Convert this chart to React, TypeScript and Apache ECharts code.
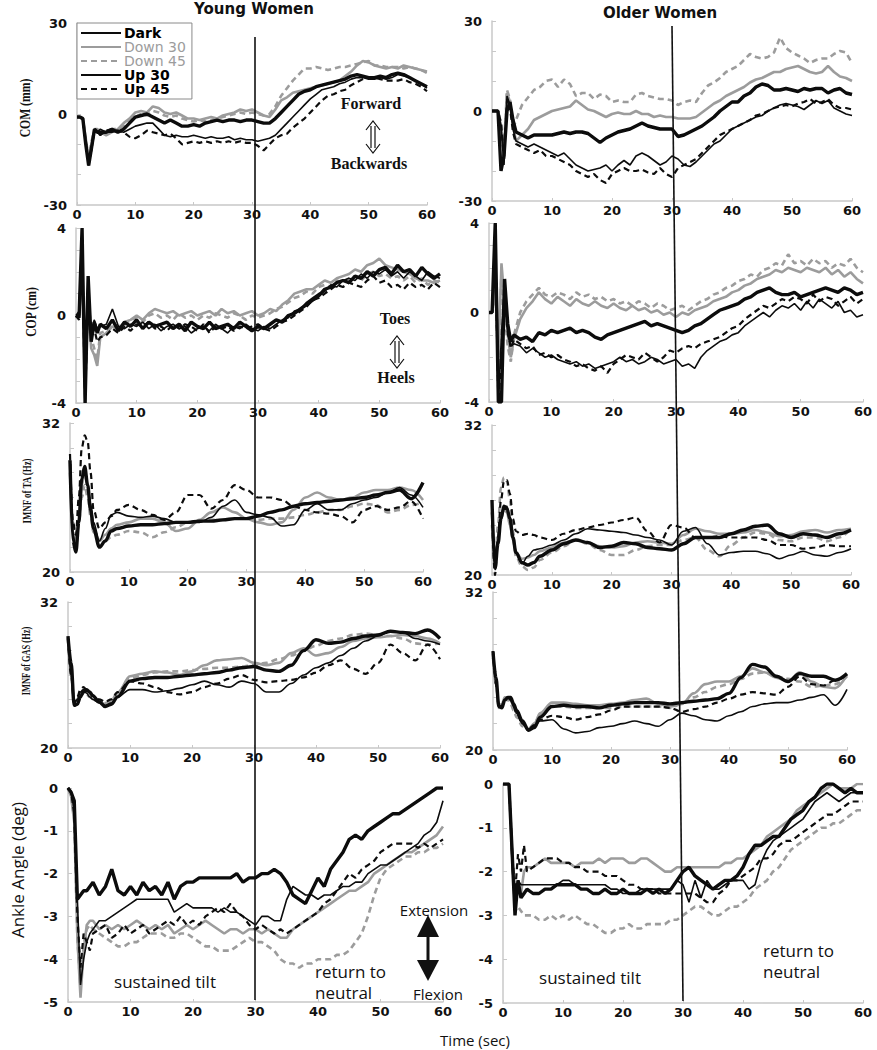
import React, { useEffect, useRef } from "react";
import * as echarts from "echarts";

// ---------- time bases ----------
const tFine = [0, 0.5, 1, 1.5, 2, 2.5, 3, 3.5, 4, 5, 6, 7, 8, 9, 10, 11, 12, 13, 14, 15, 16, 17, 18, 19, 20, 21, 22, 23, 24, 25, 26, 27, 28, 29, 30, 31, 32, 33, 34, 35, 36, 37, 38, 39, 40, 41, 42, 43, 44, 45, 46, 47, 48, 49, 50, 51, 52, 53, 54, 55, 56, 57, 58, 59, 60];
const tCoarse = [0, 0.5, 1, 1.5, 2, 2.5, 3, 3.5, 4, 5, 6, 7, 8, 10, 12, 14, 16, 18, 20, 22, 24, 26, 28, 30, 32, 34, 36, 38, 40, 42, 44, 46, 48, 50, 52, 54, 56, 58, 60];

const NAMES = ["Dark", "Down 30", "Down 45", "Up 30", "Up 45"];
const xTicks = [0, 10, 20, 30, 40, 50, 60];

// ---------- COM Young (mm) ----------
const comYoungDark = [-1, -1, -1.5, -10, -17, -11, -5, -6, -6,
  -6, -5, -6, -5, -3, -1, -0.5, 0, -1, -2,
  -3, -2, -3, -4, -4, -3.5, -4, -3, -2.5, -2,
  -2.5, -2, -2, -2.5, -2, -2, -2.5, -3, -3, -1.5,
  0.5, 2.5, 4.5, 6.5, 7.5, 8, 9, 9.5, 10, 10.5,
  11, 11.5, 12.5, 13, 12.5, 12, 12, 12.5, 12, 13,
  13.5, 13, 12, 11, 10, 9];
const comYoungDown30 = [-1, -1, -1.5, -8, -15, -10, -5, -5, -6,
  -7, -6, -5, -3, -1.5, 0.5, 1, 0.5, 2.5, 2,
  0.5, 0, 0.5, -0.5, -1.5, -1.5, -2, -1.5, -1, -1.5,
  -0.5, 0, 0.5, 1.5, 1, 1.5, 0.5, -0.5, -1, 1.5,
  4.5, 5.5, 7, 7.5, 8, 8.5, 9, 9.5, 10, 10.5,
  11, 12.5, 14, 16, 17.5, 17, 16, 15.5, 15, 15.5,
  15, 16, 15.5, 15, 14.5, 14];
const comYoungDown45 = [-1, -1, -1.5, -9, -14, -9, -5, -6, -6,
  -6, -5, -5, -4, -2, -1, 0, -0.5, 1, 0.5,
  -0.5, -1, -0.5, -1.5, -2, -2.5, -2, -2.5, -2, -1.5,
  -1, -0.5, 0, 0.5, 0, 0.5, 0, -0.5, 0, 2.5,
  6, 8.5, 11, 13, 15, 15, 15.5, 15, 14.5, 15,
  15.5, 15.5, 16, 16.5, 17, 17.5, 16, 16, 15.5, 15.5,
  15.5, 15, 15.5, 15, 14.5, 13.5];
const comYoungUp30 = [-1, -1, -2, -10, -17, -12, -6, -6, -5,
  -6, -6, -5.5, -6, -5, -4, -3.5, -3, -3, -5,
  -7, -7.5, -7, -7.5, -7.5, -7, -7.5, -8, -7.5, -8,
  -8, -7.5, -8.5, -8, -8.5, -8.5, -9, -8.5, -8, -7,
  -5, -3, -1, 1, 3, 5, 6.5, 8, 8.5, 9,
  10, 10.5, 11.5, 12, 12, 11.5, 11.5, 12, 11.5, 12,
  13, 12.5, 12, 11, 10, 8.5];
const comYoungUp45 = [-1, -1, -2, -9, -16, -11, -5, -6, -7,
  -5.5, -5, -5.5, -6, -7.5, -8, -7, -5.5, -6, -6.5,
  -7, -6.5, -8, -10, -9.5, -9, -9.5, -9, -9.5, -9,
  -9.5, -9, -9.5, -9, -9.5, -9.5, -10.5, -12, -10, -8,
  -7, -6.5, -4.5, -3, -1.5, 0.5, 2.5, 4.5, 6, 6.5,
  7.5, 8, 9.5, 10.5, 11.5, 12, 12, 11.5, 11, 11,
  11, 11.5, 10.5, 10, 9, 7.5];

// ---------- COM Older (mm) ----------
const comOlderDark = [0, 0, 0, -20, -15, 0, 3, -3, -7,
  -8, -9, -8, -8, -8, -8, -7.5, -7, -7.5, -7,
  -7, -7.5, -9, -10.5, -9, -8, -7, -6.5, -6, -5,
  -4, -5, -5.5, -6, -6, -6, -8.5, -8, -7, -6,
  -5, -3.5, -2, 0, 1.5, 3, 3, 5, 6, 8,
  9, 8.5, 7, 7, 7.5, 7, 6.5, 7.5, 7, 7.5,
  7.5, 6, 7, 7.5, 6, 5.5];
const comOlderDown30 = [0, 0, 0, -5, -15, 6, 3, -5, -10,
  -8, -6, -3, -2, -1, 0, 0.5, 1, 1.5, 3.5,
  2, 0.5, 0, -1, -2, -1, -0.5, -1, -1, 0,
  -1, -1, -2, -1.5, -2, -2, -2.5, -2.5, -2.5, -2,
  -0.5, 1, 2.5, 3.5, 5, 6, 7, 8, 9.5, 10.5,
  11, 12, 13, 13, 14, 14.5, 15, 14, 13, 12.5,
  13, 15, 13, 11.5, 11, 10];
const comOlderDown45 = [0, 0, 0, -4, -12, 7, 4, -6, -3,
  2, 4.5, 7, 8, 10, 10.5, 8, 10.5, 9, 5,
  6, 6, 4, 5.5, 5, 3, 3.5, 3, 3, 5.5,
  6, 5, 4.5, 4, 4, 3.5, 2, 3, 3.5, 3,
  6, 8.5, 9.5, 11, 13, 14, 15, 17, 19, 18,
  17.5, 18, 19.5, 24.5, 21, 19.5, 18.5, 17.5, 16, 17,
  17.5, 17.5, 19, 20, 19.5, 16];
const comOlderUp30 = [0, 0, 0, -5, -18, 5, 2, -6, -10,
  -11, -12, -11, -12, -13, -14, -15, -14, -16, -18,
  -19, -20, -19.5, -19, -18, -20, -18, -16.5, -18, -15,
  -14, -15, -16.5, -18, -17, -15, -16, -18, -18.5, -17,
  -15, -13, -11, -10, -8, -6, -5, -4, -3, -2,
  -1.5, 0, 1, 2, 2.5, 2, 1.5, 0.5, 2, 3.5,
  2.5, 3.5, 1, 0, -1, -1.5];
const comOlderUp45 = [0, 0, 0, -4, -16, 4, 1, -7, -11,
  -12, -13, -14, -13, -15, -15, -16, -17, -18, -20,
  -21, -22, -21, -23, -24, -21, -20, -19, -20, -20,
  -19.5, -20.5, -21, -19, -21, -22, -19, -18, -17, -16,
  -14, -12, -10, -8, -7, -6, -5, -4, -3, -1.5,
  -1, 0, 1, 1.5, 2, 1.5, 2.5, 3, 4, 2.5,
  3, 4, 2, 1, 1, 0.5];

// ---------- COP Young (cm) ----------
const copYoungDark = [0, -0.1, 4, -4, 1.8, -1.2, -0.3, -0.8, -0.4,
  -0.6, -0.2, -0.7, -0.3, -0.5, -0.2, -0.6, -0.3, -0.5, -0.4,
  -0.3, -0.6, -0.4, -0.7, -0.3, -0.5, -0.6, -0.3, -0.6, -0.5,
  -0.4, -0.6, -0.3, -0.5, -0.7, -0.5, -0.6, -0.4, -0.2, -0.3,
  0, 0.1, 0.3, 0.5, 0.7, 0.9, 1.2, 1.3, 1.5, 1.6,
  1.5, 1.8, 1.7, 2.0, 1.8, 2.1, 2.2, 1.9, 2.3, 2.0,
  2.1, 1.8, 2.2, 1.9, 1.7, 1.9];
const copYoungDown30 = [0, 0, 2, -3, 0.5, -1.5, -1.8, -2.3, -1.0,
  -0.8, -0.5, -0.6, -0.3, -0.2, 0, -0.2, 0.1, 0.3, 0.2,
  0.1, 0.2, 0, 0.1, 0.2, 0, 0.1, 0.2, 0, 0.3,
  0.1, 0.2, 0, 0.1, 0.2, 0, 0.1, 0.3, 0.2, 0.5,
  0.7, 1.0, 1.1, 1.2, 1.2, 1.4, 1.6, 1.5, 1.7, 1.8,
  1.9, 2.1, 2.0, 2.3, 2.4, 2.6, 2.3, 2.2, 2.1, 2.0,
  1.9, 1.7, 1.6, 1.6, 1.5, 1.6];
const copYoungDown45 = [0, 0, 3, -3.5, 1, -1, -1.5, -2, -0.8,
  -0.7, -0.4, -0.5, -0.4, -0.2, -0.1, -0.3, 0, 0.1, -0.1,
  0, -0.2, 0.1, -0.1, 0, -0.2, 0, -0.1, 0.1, 0,
  -0.1, 0.1, 0, -0.2, 0, -0.1, 0, 0.1, 0.3, 0.4,
  0.6, 0.8, 0.9, 1.1, 1.0, 1.3, 1.4, 1.3, 1.6, 1.5,
  1.7, 1.8, 1.6, 1.9, 2.0, 1.8, 1.9, 1.7, 1.8, 1.6,
  1.8, 1.5, 1.7, 1.4, 1.6, 1.5];
const copYoungUp30 = [0, 0.2, 4, -4, 1, -0.8, -0.2, -0.6, -0.5,
  -0.4, 0.3, -0.5, -0.6, -0.4, -0.5, -0.3, -0.6, -0.4, -0.7,
  -0.5, -0.4, -0.6, -0.5, -0.8, -0.6, -0.5, -0.7, -0.4, -0.6,
  -0.8, -0.5, -0.6, -0.4, -0.6, -0.7, -0.5, -0.6, -0.4, -0.2,
  -0.1, 0.2, 0.3, 0.6, 0.8, 1.0, 1.1, 1.4, 1.3, 1.6,
  1.7, 1.6, 1.9, 1.7, 2.0, 1.9, 2.1, 1.8, 2.0, 1.7,
  2.0, 1.8, 1.6, 2.0, 1.8, 1.7];
const copYoungUp45 = [0, -0.2, 3.5, -4, 1.5, -1, -0.6, -1.2, -1.0,
  -0.9, -0.6, -0.8, -0.5, -0.7, -0.4, -0.5, -0.3, -0.6, -0.5,
  -0.7, -0.4, -0.6, -0.4, -0.5, -0.7, -0.4, -0.8, -0.5, -0.6,
  -0.5, -0.7, -0.5, -0.6, -0.5, -0.4, -0.6, -0.7, -0.5, -0.3,
  -0.2, 0.0, 0.2, 0.4, 0.7, 0.8, 1.0, 1.2, 1.4, 1.3,
  1.5, 1.4, 1.3, 1.6, 1.8, 1.5, 1.6, 1.3, 1.4, 1.2,
  1.5, 1.3, 1.4, 1.2, 1.5, 1.3];

// ---------- COP Older (cm) ----------
const copOlderDark = [0, 0, 4, -4, -4, 1.5, -0.5, -1.3, -1.0,
  -1.2, -1.1, -1.3, -0.9, -1.0, -0.8, -0.9, -0.8, -0.7, -0.9,
  -0.8, -0.9, -1.1, -1.2, -1.0, -0.9, -0.8, -0.7, -0.6, -0.5,
  -0.4, -0.6, -0.5, -0.6, -0.7, -0.8, -0.9, -0.8, -0.6, -0.5,
  -0.3, -0.1, 0.1, 0.2, 0.3, 0.4, 0.6, 0.7, 0.9, 1.0,
  1.1, 0.9, 0.8, 0.8, 0.9, 0.7, 0.8, 0.9, 1.0, 1.1,
  1.0, 0.9, 1.1, 1.0, 0.8, 0.9];
const copOlderDown30 = [0, 0, 1, -2, 2.2, 0.5, -1.0, -2.0, -1.2,
  -0.3, 0.2, 0.5, 0.9, 0.6, 0.4, 0.7, 0.5, 0.3, 0.6,
  0.4, 0.3, 0.5, 0.3, 0.2, 0.4, 0.2, 0.1, 0.3, 0.1,
  0.2, 0.0, 0.1, -0.1, 0.0, -0.2, 0.0, -0.1, 0.1, 0.2,
  0.3, 0.5, 0.6, 0.7, 0.9, 1.0, 1.2, 1.3, 1.5, 1.6,
  1.7, 1.9, 1.8, 2.0, 1.9, 1.8, 2.0, 1.9, 1.8, 2.0,
  1.7, 1.9, 1.6, 1.8, 1.5, 1.3];
const copOlderDown45 = [0, 0, 1.5, -2.5, 1.8, 0, -1.5, -2.2, -1.0,
  0, 0.5, 0.8, 1.1, 0.8, 0.7, 0.9, 0.8, 0.6, 0.9,
  0.7, 0.8, 0.6, 0.7, 0.5, 0.6, 0.4, 0.5, 0.3, 0.5,
  0.4, 0.2, 0.4, 0.3, 0.1, 0.2, 0.3, 0.1, 0.3, 0.5,
  0.6, 0.8, 0.9, 1.1, 1.2, 1.4, 1.5, 1.7, 1.6, 1.9,
  2.0, 2.2, 2.1, 2.6, 2.2, 2.3, 2.1, 2.4, 2.2, 2.3,
  2.0, 2.2, 2.1, 2.4, 2.0, 1.8];
const copOlderUp30 = [0, 0, 3.5, -4, -1, 1.5, -1.0, -1.5, -1.4,
  -1.5, -1.8, -1.6, -1.8, -2.0, -1.9, -2.1, -2.2, -2.3, -2.2,
  -2.4, -2.3, -2.5, -2.4, -2.3, -2.2, -2.0, -2.2, -2.1, -2.3,
  -2.2, -2.0, -2.1, -2.3, -2.2, -2.1, -2.4, -2.3, -2.5, -2.0,
  -1.7, -1.5, -1.3, -1.2, -1.0, -0.9, -0.6, -0.4, -0.2, 0,
  -0.2, 0.1, 0.3, 0.2, 0.4, 0.1, 0.5, 0.2, 0.6, 0.4,
  0.2, 0.5, 0.0, 0.1, -0.2, -0.1];
const copOlderUp45 = [0, 0, 3, -4, -2, 1, -0.8, -1.6, -1.2,
  -1.4, -1.6, -1.5, -1.9, -1.8, -2.0, -1.9, -2.1, -2.2, -2.4,
  -2.3, -2.5, -2.6, -2.4, -2.7, -2.3, -2.1, -1.9, -2.0, -2.1,
  -1.8, -2.0, -2.2, -2.0, -1.7, -1.8, -1.6, -1.5, -1.6, -1.4,
  -1.3, -1.2, -1.1, -0.9, -0.7, -0.6, -0.3, -0.1, 0.1, 0.3,
  0.2, 0.4, 0.6, 0.5, 0.7, 0.6, 0.4, 0.8, 0.5, 0.7,
  0.6, 0.3, 0.5, 0.7, 0.4, 0.6];

// ---------- IMNF of TA, Young (Hz) ----------
const taYoungDark = [29.0, 22.5, 21.6, 24, 27.5, 28.5, 27, 25, 23.5, 22.0, 22.5, 23.3, 23.5,
  23.7, 23.8, 23.8, 23.9, 24.0, 24.0, 24.1, 24.1, 24.2, 24.3,
  24.3, 24.5, 24.8, 25.0, 25.3, 25.5, 25.6, 25.7, 25.8, 25.9,
  26.0, 26.2, 26.4, 26.6, 25.9, 27.2];
const taYoungDown30 = [29, 23, 22, 24, 27, 28, 27, 25, 23.5, 22.5, 23.0, 23.5, 23.8,
  24.0, 24.3, 24.3, 24.0, 23.3, 23.5, 24.2, 24.8, 25.2, 24.8,
  24.3, 24.0, 23.8, 24.0, 25.0, 26.0, 26.4, 26.0, 25.8, 26.0,
  26.4, 26.6, 26.6, 26.8, 26.6, 25.8];
const taYoungDown45 = [28, 24, 22.5, 24, 26, 27, 26, 24.5, 23.2, 22.6, 22.5, 22.8, 23.0,
  23.3, 23.2, 22.8, 23.2, 23.6, 24.0, 24.1, 24.2, 24.2, 24.3,
  24.3, 24.2, 24.3, 24.3, 24.4, 24.6, 24.8, 25.0, 25.0, 25.3,
  25.5, 25.4, 24.8, 25.0, 25.4, 25.6];
const taYoungUp30 = [29, 23, 22, 24, 27.5, 28, 27, 25.5, 24, 22.5, 23.5, 24.6, 24.8,
  24.5, 24.4, 24.5, 24.3, 24.0, 24.0, 24.0, 24.4, 25.3, 25.8,
  24.8, 24.6, 24.4, 23.7, 23.8, 25.0, 25.5, 25.0, 25.0, 25.5,
  25.8, 26.0, 26.4, 26.8, 26.2, 25.2];
const taYoungUp45 = [29.5, 24, 23, 26, 30, 31, 30.5, 28, 25, 23.5, 24.0, 24.5, 25.0,
  25.4, 25.0, 24.6, 24.2, 24.8, 26.2, 26.2, 25.1, 25.8, 27.0,
  26.6, 26.0, 26.0, 25.8, 25.3, 25.0, 24.8, 24.7, 24.5, 24.0,
  25.0, 25.3, 25.0, 25.2, 25.7, 24.3];

// ---------- IMNF of TA, Older (Hz) ----------
const taOlderDark = [26.0, 20.5, 22.5, 24.5, 25.5, 25.3, 24.5, 23.0, 21.8, 21.0, 20.8, 21.0, 21.5,
  22.0, 22.5, 22.8, 22.6, 22.2, 22.3, 22.6, 22.5, 22.2, 22.1,
  22.0, 22.5, 23.0, 23.0, 23.0, 23.3, 23.6, 23.9, 24.0, 23.3,
  23.0, 23.3, 23.2, 23.0, 23.3, 23.6];
const taOlderDown30 = [25.0, 21, 23, 24.5, 25.3, 25.0, 24.0, 22.8, 21.8, 21.3, 21.4, 21.6, 21.9,
  22.2, 22.6, 22.8, 22.6, 22.3, 22.2, 22.3, 22.6, 22.7, 22.6,
  22.5, 23.2, 23.7, 23.5, 23.3, 23.3, 23.4, 23.6, 23.4, 23.1,
  23.2, 23.5, 23.6, 23.4, 23.6, 23.7];
const taOlderDown45 = [24.0, 20.5, 24, 27, 27.8, 27.5, 26, 23.5, 21.5, 20.7, 20.4, 20.6, 21.2,
  21.8, 22.3, 22.8, 22.5, 22.0, 21.6, 21.6, 22.0, 22.3, 22.4,
  22.4, 22.8, 23.0, 22.0, 21.5, 22.4, 23.0, 23.4, 23.3, 22.8,
  22.7, 23.0, 23.0, 22.7, 23.0, 23.7];
const taOlderUp30 = [25.0, 21, 22.5, 24.5, 25.5, 25.5, 24.5, 23.0, 21.8, 20.9, 21.5, 22.0, 22.1,
  22.4, 22.8, 23.3, 23.7, 23.6, 23.5, 23.4, 23.2, 23.0, 22.8,
  22.4, 23.5, 23.8, 22.5, 21.6, 21.8, 21.9, 21.9, 21.7, 21.3,
  21.6, 21.9, 21.6, 21.5, 21.8, 22.1];
const taOlderUp45 = [25.0, 20.0, 23, 26, 27.5, 27.6, 26.5, 24.5, 23.5, 23.2, 23.3, 23.2, 23.0,
  22.8, 23.3, 23.6, 23.8, 24.0, 24.2, 24.4, 24.6, 23.5, 22.6,
  24.0, 23.8, 23.0, 23.0, 23.1, 23.0, 23.0, 23.0, 22.8, 22.4,
  22.4, 22.1, 22.2, 22.4, 22.3, 22.3];

// ---------- IMNF of GAS, Young (Hz) ----------
const gasYoungDark = [29.2, 27.0, 23.5, 23.6, 24.2, 24.6, 24.8, 24.6, 24.3, 23.8, 23.4, 23.6, 24.2,
  25.5, 25.7, 25.8, 25.8, 25.9, 26.0, 26.1, 26.2, 26.4, 26.6,
  26.7, 26.4, 26.3, 26.8, 28.0, 28.9, 28.6, 28.7, 29.0, 29.2,
  29.3, 29.6, 29.5, 29.4, 29.7, 29.0];
const gasYoungDown30 = [29.0, 26, 23.8, 24, 24.5, 24.8, 24.6, 24.5, 24.3, 23.8, 23.6, 23.8, 24.5,
  25.9, 26.1, 26.3, 26.2, 26.0, 26.3, 26.8, 27.2, 27.3, 27.4,
  27.0, 26.8, 27.0, 27.8, 28.2, 27.6, 27.8, 28.3, 28.8, 29.0,
  29.1, 29.2, 29.3, 29.2, 29.0, 28.6];
const gasYoungDown45 = [29.0, 26, 23.8, 24, 24.3, 24.5, 24.4, 24.2, 24.0, 23.8, 23.7, 23.9, 24.6,
  25.7, 26.0, 26.2, 26.3, 26.3, 26.4, 26.5, 26.6, 26.6, 26.7,
  26.8, 27.0, 27.3, 27.6, 28.0, 28.4, 28.8, 29.0, 29.3, 29.4,
  29.3, 29.2, 29.0, 28.6, 28.5, 28.6];
const gasYoungUp30 = [29.0, 26, 23.6, 24, 24.6, 24.8, 24.5, 24.2, 24.0, 23.7, 23.5, 23.7, 24.2,
  24.8, 24.8, 24.6, 24.7, 24.9, 25.2, 25.5, 25.2, 25.0, 25.5,
  25.3, 24.6, 24.6, 25.3, 26.0, 26.6, 27.0, 27.6, 28.2, 28.8,
  29.2, 29.6, 29.5, 29.0, 28.8, 28.5];
const gasYoungUp45 = [29.0, 26, 23.8, 24.2, 24.8, 25.0, 24.8, 24.5, 24.3, 24.0, 23.8, 24.0, 24.6,
  25.5, 25.3, 25.0, 24.6, 24.4, 24.6, 25.0, 25.3, 25.7, 26.0,
  25.6, 25.4, 25.5, 25.6, 25.8, 26.2, 26.8, 27.2, 26.5, 26.1,
  27.0, 28.5, 27.8, 27.2, 28.5, 27.3];

// ---------- IMNF of GAS, Older (Hz) ----------
const gasOlderDark = [27.5, 25.5, 23.3, 23.2, 23.8, 24.0, 24.0, 23.5, 23.0, 22.2, 21.5, 21.7, 22.5,
  23.3, 23.4, 23.3, 23.3, 23.2, 23.4, 23.5, 23.6, 23.6, 23.6,
  23.5, 23.6, 23.7, 23.8, 23.9, 24.3, 25.5, 26.5, 26.3, 25.6,
  25.2, 25.8, 25.6, 25.6, 25.3, 25.8];
const gasOlderDown30 = [27.3, 25, 23.3, 23.5, 24.0, 24.0, 23.8, 23.3, 22.8, 22.0, 21.6, 22.0, 22.8,
  23.6, 23.6, 23.5, 23.4, 23.4, 23.5, 23.6, 23.8, 23.9, 23.5,
  23.3, 23.5, 24.3, 25.0, 25.2, 25.2, 25.6, 26.2, 25.9, 25.5,
  25.2, 25.9, 25.2, 24.8, 24.7, 25.7];
const gasOlderDown45 = [27.0, 25, 23.2, 23.3, 23.8, 23.8, 23.5, 23.0, 22.5, 21.8, 21.5, 22.0, 22.7,
  23.3, 23.3, 23.2, 23.2, 23.2, 23.2, 23.3, 23.3, 23.3, 23.3,
  23.2, 23.5, 24.0, 24.4, 24.8, 25.0, 25.4, 25.8, 25.9, 25.6,
  25.4, 25.2, 24.8, 24.9, 25.0, 25.6];
const gasOlderUp30 = [27.5, 25, 23.3, 23.4, 23.8, 24.0, 23.8, 23.3, 22.8, 22.0, 21.6, 21.8, 22.2,
  22.3, 21.6, 21.3, 21.4, 21.7, 21.8, 22.0, 22.2, 22.0, 21.8,
  22.3, 22.8, 22.6, 22.3, 22.2, 22.6, 22.9, 23.3, 23.5, 23.6,
  23.6, 23.8, 24.0, 24.2, 23.4, 24.6];
const gasOlderUp45 = [27.5, 25, 23.3, 23.4, 23.8, 24.0, 23.8, 23.3, 22.8, 22.0, 21.6, 21.9, 22.3,
  22.6, 22.5, 22.3, 22.5, 22.7, 23.0, 23.3, 23.3, 23.3, 23.3,
  23.2, 22.9, 23.1, 23.3, 23.6, 23.9, 24.2, 24.4, 24.3, 24.2,
  24.8, 25.6, 25.0, 24.9, 25.3, 25.7];

// ---------- Ankle angle, Young (deg) ----------
const ankleYoungDark = [0, -0.1, -0.3, -2.6, -2.5, -2.4, -2.4, -2.3, -2.2,
  -2.5, -2.3, -1.9, -2.4, -2.5, -2.3, -2.5, -2.2, -2.4, -2.3,
  -2.5, -2.2, -2.6, -2.3, -2.2, -2.2, -2.1, -2.1, -2.1, -2.1,
  -2.1, -2.1, -2.0, -2.2, -2.1, -2.1, -2.0, -2.0, -1.9, -2.0,
  -2.2, -2.5, -2.6, -2.7, -2.4, -2.1, -2.3, -1.9, -1.7, -1.5,
  -1.2, -1.1, -1.2, -1.0, -0.9, -0.8, -0.7, -0.6, -0.6, -0.5,
  -0.4, -0.3, -0.2, -0.1, 0, 0];
const ankleYoungDown30 = [0, -0.2, -0.8, -3.5, -4.9, -3.8, -3.2, -3.1, -3.1,
  -3.3, -3.2, -3.3, -3.2, -3.3, -3.2, -3.1, -3.2, -3.3, -3.2,
  -3.3, -3.2, -3.4, -3.3, -3.2, -3.3, -3.2, -3.1, -3.2, -3.3,
  -3.4, -3.3, -3.3, -3.4, -3.3, -3.3, -3.4, -3.3, -3.4, -3.5,
  -3.5, -3.3, -3.2, -3.1, -3.0, -2.9, -2.8, -2.7, -2.6, -2.5,
  -2.4, -2.4, -2.3, -2.2, -2.0, -1.9, -1.8, -1.7, -1.6, -1.5,
  -1.5, -1.4, -1.3, -1.2, -1.1, -0.9];
const ankleYoungDown45 = [0, -0.2, -0.7, -3.5, -4.7, -3.7, -3.3, -3.2, -3.3,
  -3.4, -3.5, -3.6, -3.7, -3.7, -3.6, -3.6, -3.5, -3.4, -3.4,
  -3.4, -3.5, -3.5, -3.4, -3.4, -3.5, -3.6, -3.7, -3.7, -3.8,
  -3.8, -3.8, -3.7, -3.6, -3.5, -3.6, -3.6, -3.7, -3.8, -4.0,
  -4.1, -4.1, -4.2, -4.1, -4.1, -4.0, -4.0, -4.0, -3.9, -3.9,
  -3.8, -3.6, -3.4, -3.0, -2.5, -2.1, -1.9, -1.8, -1.7, -1.6,
  -1.6, -1.5, -1.5, -1.4, -1.4, -1.3];
const ankleYoungUp30 = [0, -0.1, -0.5, -2.6, -4.6, -4.0, -3.6, -3.4, -3.3,
  -3.1, -3.1, -3.0, -2.9, -2.8, -2.7, -2.6, -2.6, -2.6, -2.6,
  -2.6, -2.6, -2.9, -2.8, -2.7, -2.8, -2.8, -2.8, -2.8, -2.9,
  -2.8, -2.9, -2.9, -3.0, -3.1, -3.2, -3.0, -3.0, -3.1, -3.1,
  -2.6, -2.3, -2.4, -2.5, -2.5, -2.6, -2.5, -2.5, -2.4, -2.3,
  -2.3, -2.2, -2.2, -2.0, -1.9, -1.8, -1.8, -1.7, -1.6, -1.5,
  -1.4, -1.3, -1.1, -1.0, -0.8, -0.3];
const ankleYoungUp45 = [0, -0.1, -0.6, -3.0, -4.2, -3.4, -3.6, -3.8, -3.4,
  -3.3, -3.2, -3.5, -3.4, -3.2, -3.4, -3.3, -3.2, -3.4, -3.3,
  -3.2, -3.1, -3.2, -3.0, -3.2, -3.1, -3.2, -3.0, -2.9, -2.8,
  -2.9, -2.7, -2.9, -3.0, -3.2, -3.3, -3.2, -3.3, -3.4, -3.3,
  -3.4, -3.3, -3.2, -3.1, -3.0, -2.9, -2.7, -2.6, -2.4, -2.2,
  -2.0, -2.1, -1.9, -1.8, -1.7, -1.5, -1.4, -1.3, -1.3, -1.3,
  -1.3, -1.4, -1.3, -1.4, -1.3, -1.2];

// ---------- Ankle angle, Older (deg) ----------
const ankleOlderDark = [0, 0, 0, -1.5, -3.0, -2.2, -2.6, -2.5, -2.4,
  -2.5, -2.5, -2.4, -2.4, -2.3, -2.3, -2.3, -2.3, -2.4, -2.4,
  -2.5, -2.5, -2.4, -2.5, -2.5, -2.4, -2.5, -2.5, -2.5, -2.4,
  -2.5, -2.4, -2.5, -2.4, -2.2, -2.0, -1.9, -2.1, -2.2, -2.3,
  -2.4, -2.3, -2.2, -2.2, -2.1, -1.9, -1.6, -1.4, -1.4, -1.3,
  -1.2, -1.2, -1.0, -0.8, -0.7, -0.6, -0.4, -0.3, -0.1, 0,
  0, -0.1, -0.2, -0.1, -0.2, -0.2];
const ankleOlderDown30 = [0, 0, 0, -1.5, -2.8, -2.4, -2.5, -2.0, -1.9,
  -1.9, -1.8, -1.7, -1.8, -1.8, -1.8, -1.8, -1.9, -1.8, -1.8,
  -1.8, -1.7, -1.8, -1.7, -1.7, -1.7, -1.8, -1.8, -1.7, -1.7,
  -1.8, -1.9, -2.0, -2.0, -1.9, -1.9, -1.9, -1.9, -1.9, -1.9,
  -1.9, -1.9, -1.8, -1.8, -1.7, -1.7, -1.6, -1.5, -1.4, -1.2,
  -1.1, -1.0, -0.9, -0.8, -0.6, -0.5, -0.4, -0.3, -0.2, -0.1,
  0, -0.1, -0.1, -0.1, 0, 0];
const ankleOlderDown45 = [0, 0, 0, -1.5, -2.9, -2.8, -2.9, -3.0, -3.0,
  -3.0, -3.1, -3.1, -3.0, -3.1, -3.0, -3.1, -3.0, -3.1, -3.2,
  -3.2, -3.3, -3.4, -3.4, -3.3, -3.3, -3.2, -3.3, -3.3, -3.2,
  -3.2, -3.2, -3.2, -3.1, -3.1, -3.0, -2.9, -2.8, -2.8, -2.9,
  -3.0, -3.0, -2.9, -2.8, -2.8, -2.7, -2.6, -2.4, -2.3, -2.2,
  -2.0, -1.9, -1.7, -1.5, -1.4, -1.3, -1.2, -1.1, -1.0, -1.0,
  -0.9, -0.9, -0.8, -0.7, -0.6, -0.6];
const ankleOlderUp30 = [0, 0, 0, -1.8, -2.9, -2.2, -2.3, -2.3, -2.3,
  -2.3, -2.3, -2.3, -2.3, -2.3, -2.2, -2.2, -2.3, -2.3, -2.3,
  -2.3, -2.3, -2.3, -2.4, -2.4, -2.5, -2.5, -2.5, -2.4, -2.4,
  -2.4, -2.4, -2.4, -2.4, -2.2, -2.3, -2.7, -2.2, -2.6, -2.2,
  -2.4, -2.4, -2.3, -2.2, -2.2, -2.2, -2.4, -2.3, -1.8, -1.5,
  -1.3, -1.2, -1.1, -1.0, -0.9, -0.8, -0.6, -0.4, -0.3, -0.2,
  -0.3, -0.4, -0.3, -0.2, -0.2, -0.2];
const ankleOlderUp45 = [0, 0, 0, -1.5, -2.5, -1.6, -2.0, -1.4, -2.0,
  -1.9, -1.8, -1.7, -1.7, -1.7, -1.8, -1.8, -1.9, -1.9, -2.0,
  -2.0, -2.0, -2.1, -2.1, -2.1, -2.2, -2.3, -2.3, -2.4, -2.4,
  -2.4, -2.5, -2.5, -2.5, -2.5, -2.5, -2.5, -2.5, -2.6, -2.7,
  -2.7, -2.5, -2.4, -2.2, -2.2, -2.1, -2.0, -1.9, -1.7, -1.7,
  -1.6, -1.4, -1.3, -1.3, -1.2, -1.1, -1.0, -0.9, -0.8, -0.7,
  -0.7, -0.6, -0.5, -0.4, -0.4, -0.4];

// ---------- styling (kept apart from data) ----------
const GRAY = "#9c9c9c";
const BLACK = "#0c0c0c";
const AXIS_GRAY = "#c8c8c8";
const STYLES: Record<string, any> = {
  "Dark": { color: BLACK, width: 3.4, type: "solid" },
  "Down 30": { color: GRAY, width: 2.6, type: "solid" },
  "Down 45": { color: GRAY, width: 2.6, type: [6, 4] },
  "Up 30": { color: BLACK, width: 1.6, type: "solid" },
  "Up 45": { color: BLACK, width: 2.2, type: [6, 4] },
};
const DRAW_ORDER = [2, 1, 4, 3, 0];

const panels = [
  { grid: { left: 77, top: 23, width: 350, height: 182 }, y: [-30, 30, 10], shown: [-30, 0, 30], t: tFine, smooth: false,
    data: [comYoungDark, comYoungDown30, comYoungDown45, comYoungUp30, comYoungUp45] },
  { grid: { left: 492, top: 21, width: 360, height: 180 }, y: [-30, 30, 10], shown: [-30, 0, 30], t: tFine, smooth: false,
    data: [comOlderDark, comOlderDown30, comOlderDown45, comOlderUp30, comOlderUp45] },
  { grid: { left: 76, top: 228, width: 364, height: 175 }, y: [-4, 4, 1], shown: [-4, 0, 4], t: tFine, smooth: false,
    data: [copYoungDark, copYoungDown30, copYoungDown45, copYoungUp30, copYoungUp45] },
  { grid: { left: 489, top: 223, width: 374, height: 179 }, y: [-4, 4, 1], shown: [-4, 0, 4], t: tFine, smooth: false,
    data: [copOlderDark, copOlderDown30, copOlderDown45, copOlderUp30, copOlderUp45] },
  { grid: { left: 70, top: 423, width: 353, height: 149 }, y: [20, 32, 2], shown: [20, 32], t: tCoarse, smooth: true,
    data: [taYoungDark, taYoungDown30, taYoungDown45, taYoungUp30, taYoungUp45] },
  { grid: { left: 492, top: 425, width: 359, height: 150 }, y: [20, 32, 2], shown: [20, 32], t: tCoarse, smooth: true,
    data: [taOlderDark, taOlderDown30, taOlderDown45, taOlderUp30, taOlderUp45] },
  { grid: { left: 68, top: 602, width: 372, height: 146 }, y: [20, 32, 2], shown: [20, 32], t: tCoarse, smooth: true,
    data: [gasYoungDark, gasYoungDown30, gasYoungDown45, gasYoungUp30, gasYoungUp45] },
  { grid: { left: 493, top: 592, width: 354, height: 158 }, y: [20, 32, 2], shown: [20, 32], t: tCoarse, smooth: true,
    data: [gasOlderDark, gasOlderDown30, gasOlderDown45, gasOlderUp30, gasOlderUp45] },
  { grid: { left: 68, top: 788, width: 375, height: 214 }, y: [-5, 0, 1], shown: [-5, -4, -3, -2, -1, 0], t: tFine, smooth: false,
    data: [ankleYoungDark, ankleYoungDown30, ankleYoungDown45, ankleYoungUp30, ankleYoungUp45] },
  { grid: { left: 503, top: 784, width: 360, height: 219 }, y: [-5, 0, 1], shown: [-5, -4, -3, -2, -1, 0], t: tFine, smooth: false,
    data: [ankleOlderDark, ankleOlderDown30, ankleOlderDown45, ankleOlderUp30, ankleOlderUp45] },
];

const TICK_FONT = { color: "#111", fontFamily: "DejaVu Sans", fontWeight: "bold", fontSize: 13 };

function txt(text: string, x: number, y: number, font: string, align = "center", extra: any = {}) {
  return { type: "text", x, y, z: 50, ...extra, style: { text, x: 0, y: 0, font, fill: "#111", align, verticalAlign: "middle", lineHeight: 21 } };
}
function vtxt(text: string, x: number, y: number, font: string, scaleX = 1) {
  return { type: "text", x, y, rotation: Math.PI / 2, scaleX, z: 50,
    style: { text, x: 0, y: 0, font, fill: "#111", align: "center", verticalAlign: "middle" } };
}
function outlineArrow(x: number, y1: number, y2: number) {
  const s = { stroke: "#111", lineWidth: 1.2, fill: null };
  return [
    { type: "line", z: 50, shape: { x1: x - 2, y1: y1 + 5, x2: x - 2, y2: y2 - 5 }, style: s },
    { type: "line", z: 50, shape: { x1: x + 2, y1: y1 + 5, x2: x + 2, y2: y2 - 5 }, style: s },
    { type: "polyline", z: 50, shape: { points: [[x - 7, y1 + 9], [x, y1], [x + 7, y1 + 9]] }, style: s },
    { type: "polyline", z: 50, shape: { points: [[x - 7, y2 - 9], [x, y2], [x + 7, y2 - 9]] }, style: s },
  ];
}

export default function App() {
  const ref = useRef<HTMLDivElement>(null);
  useEffect(() => {
    document.body.style.margin = "0";
    if (!ref.current) return;
    const chart = echarts.init(ref.current, undefined, { renderer: "svg" });

    const grids = panels.map((p) => ({ ...p.grid, containLabel: false }));
    const xAxes = panels.map((p, gi) => ({
      type: "value", gridIndex: gi, min: 0, max: 60, interval: 10,
      axisLine: { show: true, onZero: false, lineStyle: { color: AXIS_GRAY, width: 1.5 } },
      axisTick: { show: true, inside: true, length: 3, lineStyle: { color: AXIS_GRAY } },
      axisLabel: { ...TICK_FONT, margin: 3, formatter: (v: number) => (xTicks.includes(v) ? String(v) : "") },
      splitLine: { show: false },
    }));
    const yAxes = panels.map((p, gi) => ({
      type: "value", gridIndex: gi, min: p.y[0], max: p.y[1], interval: p.y[2],
      axisLine: { show: true, onZero: false, lineStyle: { color: AXIS_GRAY, width: 1.5 } },
      axisTick: { show: true, inside: true, length: 4, lineStyle: { color: AXIS_GRAY } },
      axisLabel: { ...TICK_FONT, margin: 10, formatter: (v: number) => (p.shown.includes(v) ? String(v) : "") },
      splitLine: { show: false },
    }));
    const series: any[] = [];
    panels.forEach((p, gi) => {
      DRAW_ORDER.forEach((si) => {
        const name = NAMES[si];
        const st = STYLES[name];
        series.push({
          type: "line", name, xAxisIndex: gi, yAxisIndex: gi,
          data: p.t.map((x, i) => [x, p.data[si][i]]),
          symbol: "none", showSymbol: false,
          smooth: p.smooth ? 0.35 : false, smoothMonotone: "x",
          color: st.color,
          lineStyle: { color: st.color, width: st.width, type: st.type },
          itemStyle: { color: st.color },
          clip: true, silent: true,
        });
      });
    });

    const graphic: any[] = [
      { type: "line", z: 40, shape: { x1: 255, y1: 37, x2: 255, y2: 1000 }, style: { stroke: "#111", lineWidth: 1.6 } },
      { type: "line", z: 40, shape: { x1: 672, y1: 26, x2: 683, y2: 1001 }, style: { stroke: "#111", lineWidth: 1.6 } },
      txt("Young Women", 254, 9, "bold 15px 'DejaVu Sans'"),
      txt("Older Women", 660, 13, "bold 15px 'DejaVu Sans'"),
      vtxt("COM (mm)", 25, 108, "bold 15px 'Liberation Serif'", 0.78),
      vtxt("COP (cm)", 31, 312, "bold 15px 'Liberation Serif'", 0.78),
      vtxt("IMNF of TA (Hz)", 27, 491, "bold 12px 'Liberation Serif'", 0.74),
      vtxt("IMNF of GAS (Hz)", 26, 661, "bold 12px 'Liberation Serif'", 0.7),
      vtxt("Ankle Angle (deg)", 17, 870, "17px 'Open Sans'"),
      txt("Forward", 371, 103, "bold 16px 'Liberation Serif'"),
      ...outlineArrow(373, 121, 153),
      txt("Backwards", 369, 163, "bold 16px 'Liberation Serif'"),
      txt("Toes", 395, 318, "bold 16px 'Liberation Serif'"),
      ...outlineArrow(397, 336, 368),
      txt("Heels", 396, 377, "bold 16px 'Liberation Serif'"),
      txt("sustained tilt", 165, 981, "17px 'Open Sans'"),
      txt("return to\nneutral", 315, 982, "17px 'Open Sans'", "left"),
      txt("Extension", 434, 910, "15px 'Open Sans'"),
      txt("Flexion", 438, 994, "15px 'Open Sans'"),
      { type: "polygon", z: 50, shape: { points: [[428, 915], [417, 937], [439, 937]] }, style: { fill: "#111" } },
      { type: "rect", z: 50, shape: { x: 426.5, y: 936, width: 3, height: 25 }, style: { fill: "#111" } },
      { type: "polygon", z: 50, shape: { points: [[417, 960], [439, 960], [428, 981]] }, style: { fill: "#111" } },
      txt("sustained tilt", 590, 977, "17px 'Open Sans'"),
      txt("return to\nneutral", 763, 961, "17px 'Open Sans'", "left"),
      txt("Time (sec)", 475, 1040, "15px 'Open Sans'"),
    ];

    chart.setOption({
      animation: false,
      backgroundColor: "#fff",
      grid: grids,
      xAxis: xAxes,
      yAxis: yAxes,
      series,
      legend: {
        left: 77, top: 23, orient: "vertical", itemWidth: 40, itemHeight: 8, itemGap: 0,
        padding: [3, 6, 3, 3], borderColor: "#8a8a8a", borderWidth: 1, backgroundColor: "#fff",
        itemStyle: { opacity: 0 },
        lineStyle: { opacity: 1 },
        textStyle: { fontFamily: "DejaVu Sans", fontSize: 14, lineHeight: 11.5, padding: [0, 0, 0, -2] },
        data: NAMES.map((n) => ({
          name: n,
          textStyle: n.startsWith("Down")
            ? { color: GRAY, fontWeight: "normal" }
            : { color: "#000", fontWeight: "bold" },
        })),
        selectedMode: false,
      },
      graphic,
    });
    return () => chart.dispose();
  }, []);
  return <div ref={ref} style={{ width: 877, height: 1050 }} />;
}
